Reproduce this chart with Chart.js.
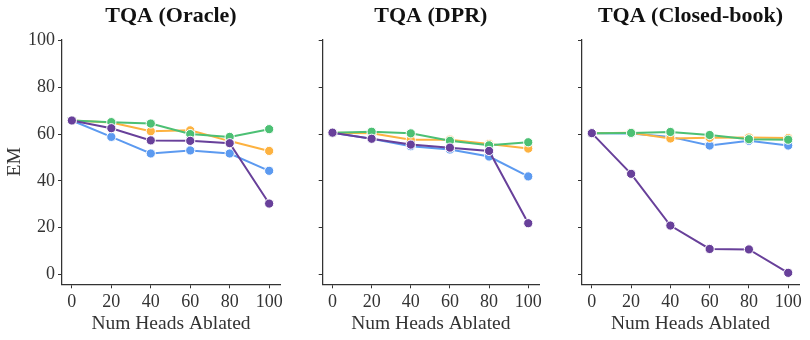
<!DOCTYPE html>
<html>
<head>
<meta charset="utf-8">
<script src="https://cdn.jsdelivr.net/npm/chart.js@4.4.0/dist/chart.umd.min.js"></script>
<style>
  body { margin: 0; background: #fff; }
  #wrap { position: relative; width: 810px; height: 340px; }
  canvas { position: absolute; top: 0; }
</style>
</head>
<body>
<div id="wrap">
  <canvas id="c1" style="left:0px" width="290" height="340"></canvas>
  <canvas id="c2" style="left:311px" width="240" height="340"></canvas>
  <canvas id="c3" style="left:570px" width="240" height="340"></canvas>
</div>
<script>
// x values (number of heads ablated)
const heads = [0, 20, 40, 60, 80, 100];
const titles = ["TQA (Oracle)", "TQA (DPR)", "TQA (Closed-book)"];
const yTicks = [0, 20, 40, 60, 80, 100];

// series per panel: blue, orange, green, purple
const oracleBlue   = [65.8, 58.8, 51.7, 53.0, 51.7, 44.3];
const oracleOrange = [65.8, 64.9, 61.2, 61.6, 57.0, 52.8];
const oracleGreen  = [65.8, 65.1, 64.5, 60.0, 58.8, 62.1];
const oraclePurple = [65.8, 62.5, 57.3, 57.1, 56.1, 30.3];

const dprBlue   = [60.6, 58.0, 54.8, 53.4, 50.4, 41.9];
const dprOrange = [60.6, 60.3, 57.6, 57.6, 55.8, 53.8];
const dprGreen  = [60.6, 61.0, 60.3, 57.1, 55.2, 56.5];
const dprPurple = [60.6, 58.0, 55.5, 54.2, 52.8, 21.9];

const cbBlue   = [60.4, 60.2, 58.8, 55.1, 57.1, 55.1];
const cbOrange = [60.4, 60.6, 58.1, 58.4, 58.5, 58.3];
const cbGreen  = [60.4, 60.5, 60.9, 59.6, 57.8, 57.6];
const cbPurple = [60.4, 43.0, 20.9, 10.9, 10.7, 0.7];

const colors = ["#5c9af0", "#fdb240", "#4cc074", "#68409a"];
const FONT = "'Liberation Serif', 'Times New Roman', serif";

function makeChart(id, title, series, opts) {
  const datasets = series.map((vals, i) => ({
    data: heads.map((x, j) => ({ x: x, y: vals[j] })),
    order: series.length - i, // later series drawn on top
    borderColor: colors[i],
    backgroundColor: colors[i],
    borderWidth: 2,
    pointRadius: 4.6,
    pointBorderColor: "#ffffff",
    pointBorderWidth: 1,
    pointBackgroundColor: colors[i],
    fill: false,
    tension: 0
  }));
  new Chart(document.getElementById(id), {
    type: 'line',
    data: { datasets: datasets },
    options: {
      responsive: false,
      animation: false,
      events: [],
      layout: { padding: { left: 0, right: opts.padRight, top: 0, bottom: 0 } },
      plugins: {
        legend: { display: false },
        tooltip: { enabled: false },
        title: {
          display: true,
          fullSize: false,
          text: title,
          color: "#111",
          font: { family: FONT, size: 22, weight: 'bold', lineHeight: 1.2 },
          padding: { top: 3, bottom: 9.9 }
        }
      },
      scales: {
        x: {
          type: 'linear',
          min: -5,
          max: 105.5,
          afterFit: s => { s.height = 55.7; },
          border: { color: "#333", width: 1.25 },
          grid: { drawOnChartArea: false, drawTicks: true, tickLength: 4, color: "#333", tickWidth: 1 },
          ticks: {
            stepSize: 20,
            includeBounds: false,
            padding: 3,
            color: "#333",
            font: { family: FONT, size: 18 }
          },
          title: {
            display: true,
            text: "Num Heads Ablated",
            color: "#333",
            font: { family: FONT, size: 19.5, lineHeight: 1.2 },
            padding: { top: 0, bottom: 4.5 }
          }
        },
        y: {
          min: -4.2,
          max: 100.5,
          afterFit: s => { s.width = opts.yWidth; },
          afterBuildTicks: s => { s.ticks = yTicks.map(v => ({ value: v })); },
          border: { color: "#333", width: 1.25 },
          grid: { drawOnChartArea: false, drawTicks: true, tickLength: 4, color: "#333", tickWidth: 1 },
          ticks: {
            display: opts.showY,
            padding: 3,
            color: "#333",
            font: { family: FONT, size: 18 }
          },
          title: {
            display: opts.showY,
            text: "EM",
            color: "#333",
            font: { family: FONT, size: 19.5, lineHeight: 1.2 },
            padding: { top: 3.5, bottom: 0 }
          }
        }
      }
    }
  });
}

makeChart("c1", titles[0], [oracleBlue, oracleOrange, oracleGreen, oraclePurple], { yWidth: 62, padRight: 10, showY: true });
makeChart("c2", titles[1], [dprBlue, dprOrange, dprGreen, dprPurple], { yWidth: 11.7, padRight: 12, showY: false });
makeChart("c3", titles[2], [cbBlue, cbOrange, cbGreen, cbPurple], { yWidth: 12, padRight: 11, showY: false });
</script>
</body>
</html>
